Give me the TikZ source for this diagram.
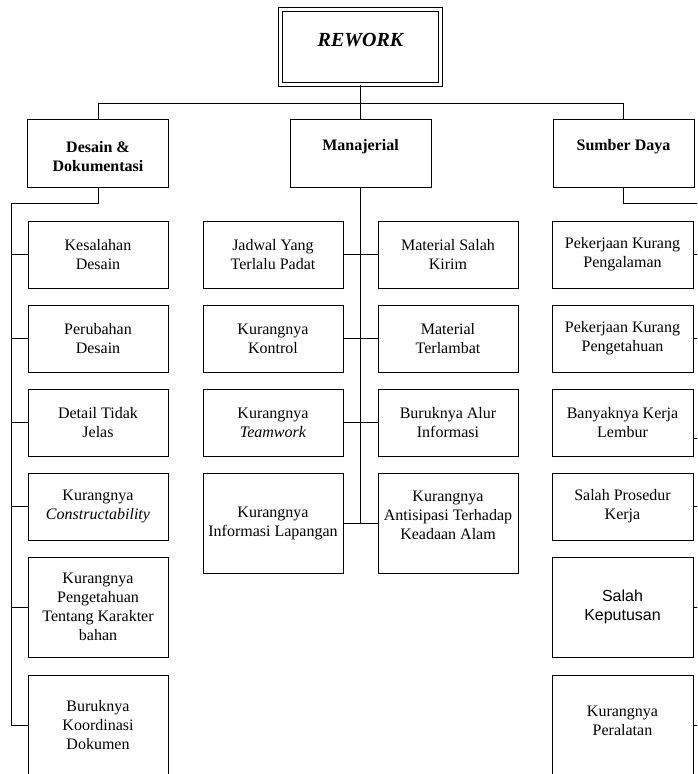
\documentclass[tikz,border=0pt]{standalone}
\usepackage{fontspec}
\setmainfont{Liberation Serif}
\newfontfamily\arialf{Liberation Sans}
\begin{document}
\begin{tikzpicture}[x=1pt,y=-1pt,
  txt/.style={font=\fontsize{16}{19}\selectfont, align=center, inner sep=0pt},
  box/.style={draw, line width=0.9pt, minimum width=140pt, minimum height=67pt, inner sep=0pt, align=center, font=\fontsize{16}{19}\selectfont},
  tallbox/.style={box, minimum height=100pt},
  head/.style={draw, line width=0.9pt, minimum width=141pt, minimum height=68pt, inner sep=0pt},
  htxt/.style={txt, font=\fontsize{16}{19}\selectfont\bfseries},
  conn/.style={draw, line width=0.9pt}
]
\useasboundingbox (0,0) rectangle (697,774);
\clip (0,0) rectangle (697,774);

% top
\node[draw, line width=1pt, double, double distance=3pt, minimum width=160pt, minimum height=74.5pt] (rework) at (360.5,46.8) {};
\node[inner sep=0pt, font=\fontsize{20}{24}\selectfont\bfseries\itshape] (reworkT) at (360.5,40) {REWORK};

% headers
\node[head] (desain) at (98,153) {};
\node[htxt] (desainT) at (98,156.5) {Desain \&\\Dokumentasi};
\node[head] (manaj) at (360.5,153) {};
\node[htxt] (manajT) at (360.5,147) {Manajerial};
\node[head] (sumber) at (623.5,153) {};
\node[htxt] (sumberT) at (623.5,147) {Sumber Daya};

\coordinate (barL) at (98,103);
\coordinate (barM) at (360.5,103);
\coordinate (barR) at (623.5,103);
\draw[conn] (rework.south) -- (barM);
\draw[conn] (barL) -- (barR);
\draw[conn] (desain.north) -- (barL);
\draw[conn] (manaj.north) -- (barM);
\draw[conn] (sumber.north) -- (barR);

% left column
\node[box] (d1) at (98,254.5) {Kesalahan\\Desain};
\node[box] (d2) at (98,338.5) {Perubahan\\Desain};
\node[box] (d3) at (98,422.5) {Detail Tidak\\Jelas};
\node[box] (d4) at (98,506.5) {Kurangnya\\\textit{Constructability}};
\node[tallbox] (d5) at (98,607) {Kurangnya\\Pengetahuan\\Tentang Karakter\\bahan};
\node[tallbox] (d6) at (98,725) {Buruknya\\Koordinasi\\Dokumen};

\coordinate (busLtop) at (11,203);
\coordinate (busLbot) at (11,725);
\draw[conn] (desain.south) -- (98,203) -- (busLtop) -- (busLbot);
\foreach \n in {d1,d2,d3,d4,d5,d6}
  \draw[conn] (\n.west) -- (\n.west -| busLtop);

% middle column
\node[box] (m1) at (273,254.5) {Jadwal Yang\\Terlalu Padat};
\node[box] (m2) at (273,338.5) {Kurangnya\\Kontrol};
\node[box] (m3) at (273,422.5) {Kurangnya\\\textit{Teamwork}};
\node[tallbox] (m4) at (273,523) {Kurangnya\\Informasi Lapangan};
\node[box] (n1) at (448,254.5) {Material Salah\\Kirim};
\node[box] (n2) at (448,338.5) {Material\\Terlambat};
\node[box] (n3) at (448,422.5) {Buruknya Alur\\Informasi};
\node[tallbox] (n4) at (448,523) {};
\node[txt] (n4T) at (448,515) {Kurangnya\\Antisipasi Terhadap\\Keadaan Alam};

\coordinate (busMbot) at (360.5,523);
\draw[conn] (manaj.south) -- (busMbot);
\foreach \n in {m1,m2,m3,m4}
  \draw[conn] (\n.east) -- (\n.east -| busMbot);
\foreach \n in {n1,n2,n3,n4}
  \draw[conn] (\n.west) -- (\n.west -| busMbot);

% right column
\node[box, minimum width=141pt] (s1) at (622.5,254.5) {Pekerjaan Kurang\\Pengalaman};
\node[box, minimum width=141pt] (s2) at (622.5,338.5) {Pekerjaan Kurang\\Pengetahuan};
\node[box, minimum width=141pt] (s3) at (622.5,422.5) {Banyaknya Kerja\\Lembur};
\node[box, minimum width=141pt] (s4) at (622.5,506.5) {Salah Prosedur\\Kerja};
\node[tallbox, minimum width=141pt, font=\arialf\fontsize{16}{19}\selectfont] (s5) at (622.5,607) {Salah\\Keputusan};
\node[tallbox, minimum width=141pt] (s6) at (622.5,725) {};
\node[txt] (s6T) at (622.5,721) {Kurangnya\\Peralatan};

\coordinate (busRtop) at (703,203);
\coordinate (busRbot) at (703,725);
\draw[conn] (sumber.south) -- (623.5,203) -- (busRtop) -- (busRbot);
\foreach \n in {s1,s2,s4,s5,s6}
  \draw[conn] (\n.east) -- (\n.east -| busRtop);
\draw[conn] ([yshift=-15.5pt]s3.east) -- ([yshift=-15.5pt]s3.east -| busRtop);
\end{tikzpicture}
\end{document}
